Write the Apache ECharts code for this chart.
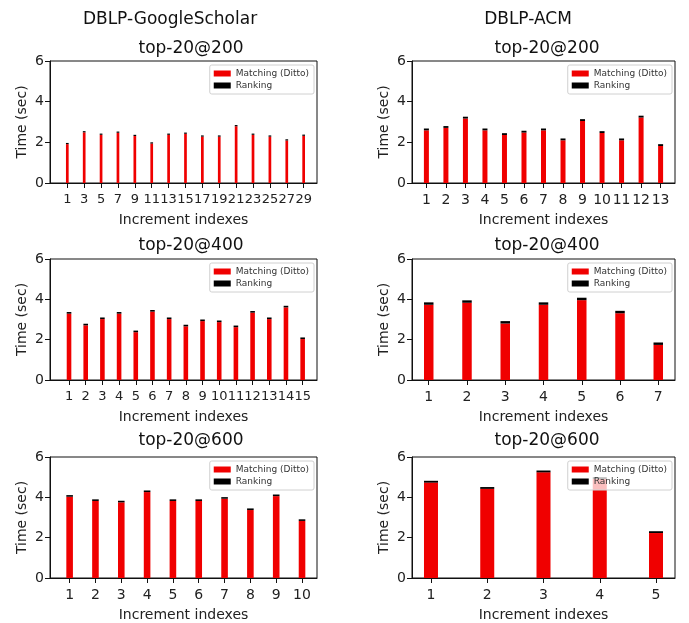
<!DOCTYPE html>
<html><head><meta charset="utf-8">
<script src="https://cdn.jsdelivr.net/npm/echarts@6/dist/echarts.min.js"></script>
<style>html,body{margin:0;padding:0;background:#fff}#c{width:689px;height:623px}</style>
</head><body><div id="c"></div>
<script>
// ---- data ----
const columnTitles = ["DBLP-GoogleScholar", "DBLP-ACM"];
const panelTitles = ["top-20@200", "top-20@200", "top-20@400", "top-20@400", "top-20@600", "top-20@600"];

const gsIdx200 = [1,3,5,7,9,11,13,15,17,19,21,23,25,27,29];
const gsMatch200 = [1.91,2.49,2.37,2.47,2.31,1.94,2.37,2.42,2.28,2.28,2.79,2.37,2.28,2.09,2.32];
const gsRank200  = [0.06,0.06,0.06,0.06,0.06,0.06,0.06,0.06,0.06,0.06,0.06,0.06,0.06,0.06,0.06];

const acmIdx200 = [1,2,3,4,5,6,7,8,9,10,11,12,13];
const acmMatch200 = [2.59,2.71,3.17,2.59,2.36,2.48,2.59,2.10,3.05,2.46,2.10,3.22,1.82];
const acmRank200  = [0.09,0.09,0.09,0.09,0.09,0.09,0.09,0.09,0.09,0.09,0.09,0.09,0.09];

const gsIdx400 = [1,2,3,4,5,6,7,8,9,10,11,12,13,14,15];
const gsMatch400 = [3.29,2.71,3.02,3.29,2.37,3.39,3.02,2.66,2.92,2.87,2.62,3.34,3.02,3.60,2.03];
const gsRank400  = [0.08,0.08,0.08,0.08,0.08,0.08,0.08,0.08,0.08,0.08,0.08,0.08,0.08,0.08,0.08];

const acmIdx400 = [1,2,3,4,5,6,7];
const acmMatch400 = [3.73,3.83,2.80,3.73,3.96,3.31,1.74];
const acmRank400  = [0.12,0.12,0.12,0.12,0.12,0.12,0.12];

const gsIdx600 = [1,2,3,4,5,6,7,8,9,10];
const gsMatch600 = [4.03,3.82,3.75,4.26,3.82,3.82,3.93,3.37,4.06,2.83];
const gsRank600  = [0.08,0.08,0.08,0.08,0.08,0.08,0.08,0.08,0.08,0.08];

const acmIdx600 = [1,2,3,4,5];
const acmMatch600 = [4.73,4.42,5.24,4.91,2.23];
const acmRank600  = [0.09,0.09,0.09,0.09,0.09];

const yTicks = [0, 2, 4, 6];
const seriesNames = ["Matching (Ditto)", "Ranking"];

// ---- layout ----
const FONT = "DejaVu Sans";
const panels = [
  {idx: gsIdx200, m: gsMatch200, r: gsRank200, xmin: -1.05, xmax: 30.58, bw: 2.7, fs: 13},
  {idx: acmIdx200, m: acmMatch200, r: acmRank200, xmin: 0.2625, xmax: 13.7375, bw: 5, fs: 14},
  {idx: gsIdx400, m: gsMatch400, r: gsRank400, xmin: -0.14, xmax: 15.86, bw: 4.6, fs: 13},
  {idx: acmIdx400, m: acmMatch400, r: acmRank400, xmin: 0.5625, xmax: 7.4375, bw: 9.5, fs: 14},
  {idx: gsIdx600, m: gsMatch600, r: gsRank600, xmin: 0.24, xmax: 10.58, bw: 6.6, fs: 14},
  {idx: acmIdx600, m: acmMatch600, r: acmRank600, xmin: 0.6625, xmax: 5.3375, bw: 14, fs: 14}
];
const grids = [
  {left: 50, top: 61, width: 267, height: 122},
  {left: 412, top: 61, width: 263, height: 122},
  {left: 50, top: 259, width: 267, height: 121},
  {left: 412, top: 259, width: 263, height: 121},
  {left: 50, top: 457, width: 267, height: 121},
  {left: 412, top: 457, width: 263, height: 121}
];
const titleTop = [35, 35, 232, 232, 427, 427];
const titleX = [186, 542];

const option = {
  animation: false,
  backgroundColor: "#fff",
  textStyle: {fontFamily: FONT},
  title: [],
  legend: [],
  grid: [],
  xAxis: [],
  yAxis: [],
  series: []
};

option.title.push({text: columnTitles[0], left: 165, top: 6, textAlign: "center",
  textStyle: {fontFamily: FONT, fontSize: 17, fontWeight: "normal", color: "#111"}});
option.title.push({text: columnTitles[1], left: 523, top: 6, textAlign: "center",
  textStyle: {fontFamily: FONT, fontSize: 17, fontWeight: "normal", color: "#111"}});

panels.forEach((p, i) => {
  const g = grids[i];
  option.grid.push(Object.assign({show: true, borderColor: "#111", borderWidth: 1, backgroundColor: "transparent", containLabel: false}, g));
  option.title.push({text: panelTitles[i], left: titleX[i % 2], top: titleTop[i], textAlign: "center",
    textStyle: {fontFamily: FONT, fontSize: 17, fontWeight: "normal", color: "#111"}});
  option.xAxis.push({
    type: "value", gridIndex: i, min: p.xmin, max: p.xmax,
    name: "Increment indexes", nameLocation: "middle", nameGap: 30,
    nameTextStyle: {fontFamily: FONT, fontSize: 14, color: "#222"},
    axisLine: {show: true, onZero: false, lineStyle: {color: "#111", width: 1}},
    axisTick: {show: true, length: 5, customValues: p.idx, lineStyle: {color: "#111"}},
    axisLabel: {customValues: p.idx, margin: 10, fontFamily: FONT, fontSize: p.fs, color: "#222",
      showMinLabel: true, showMaxLabel: true, hideOverlap: false},
    splitLine: {show: false}
  });
  option.yAxis.push({
    type: "value", gridIndex: i, min: 0, max: 6, interval: 2,
    name: "Time (sec)", nameLocation: "middle", nameGap: 21,
    nameTextStyle: {fontFamily: FONT, fontSize: 14, color: "#222"},
    axisLine: {show: true, onZero: false, lineStyle: {color: "#111", width: 1}},
    axisTick: {show: true, length: 5, lineStyle: {color: "#111"}},
    axisLabel: {margin: 6, fontFamily: FONT, fontSize: 14, color: "#222",
      formatter: v => (yTicks.indexOf(v) >= 0 ? String(v) : "")},
    splitLine: {show: false}
  });
  // value first so that stacking happens on the y dimension
  option.series.push({
    type: "bar", name: seriesNames[0], xAxisIndex: i, yAxisIndex: i, stack: "s" + i,
    barWidth: p.bw, itemStyle: {color: "#f00000"},
    encode: {x: 1, y: 0},
    data: p.idx.map((x, k) => [p.m[k], x])
  });
  option.series.push({
    type: "bar", name: seriesNames[1], xAxisIndex: i, yAxisIndex: i, stack: "s" + i,
    barWidth: p.bw, itemStyle: {color: "#000"},
    encode: {x: 1, y: 0},
    data: p.idx.map((x, k) => [p.r[k], x])
  });
  const rightEdge = g.left + g.width - 3;
  option.legend.push({
    data: seriesNames, orient: "vertical", right: 689 - rightEdge, top: g.top + 4,
    itemWidth: 17, itemHeight: 6, itemGap: 3, padding: [4, 5, 4, 4],
    icon: "rect", selectedMode: false,
    backgroundColor: "rgba(255,255,255,0.75)", borderColor: "#d0d0d0", borderWidth: 1, borderRadius: 2,
    textStyle: {fontFamily: FONT, fontSize: 9, color: "#333"}
  });
});

const chart = echarts.init(document.getElementById("c"), null, {renderer: "canvas"});
chart.setOption(option);
</script></body></html>
